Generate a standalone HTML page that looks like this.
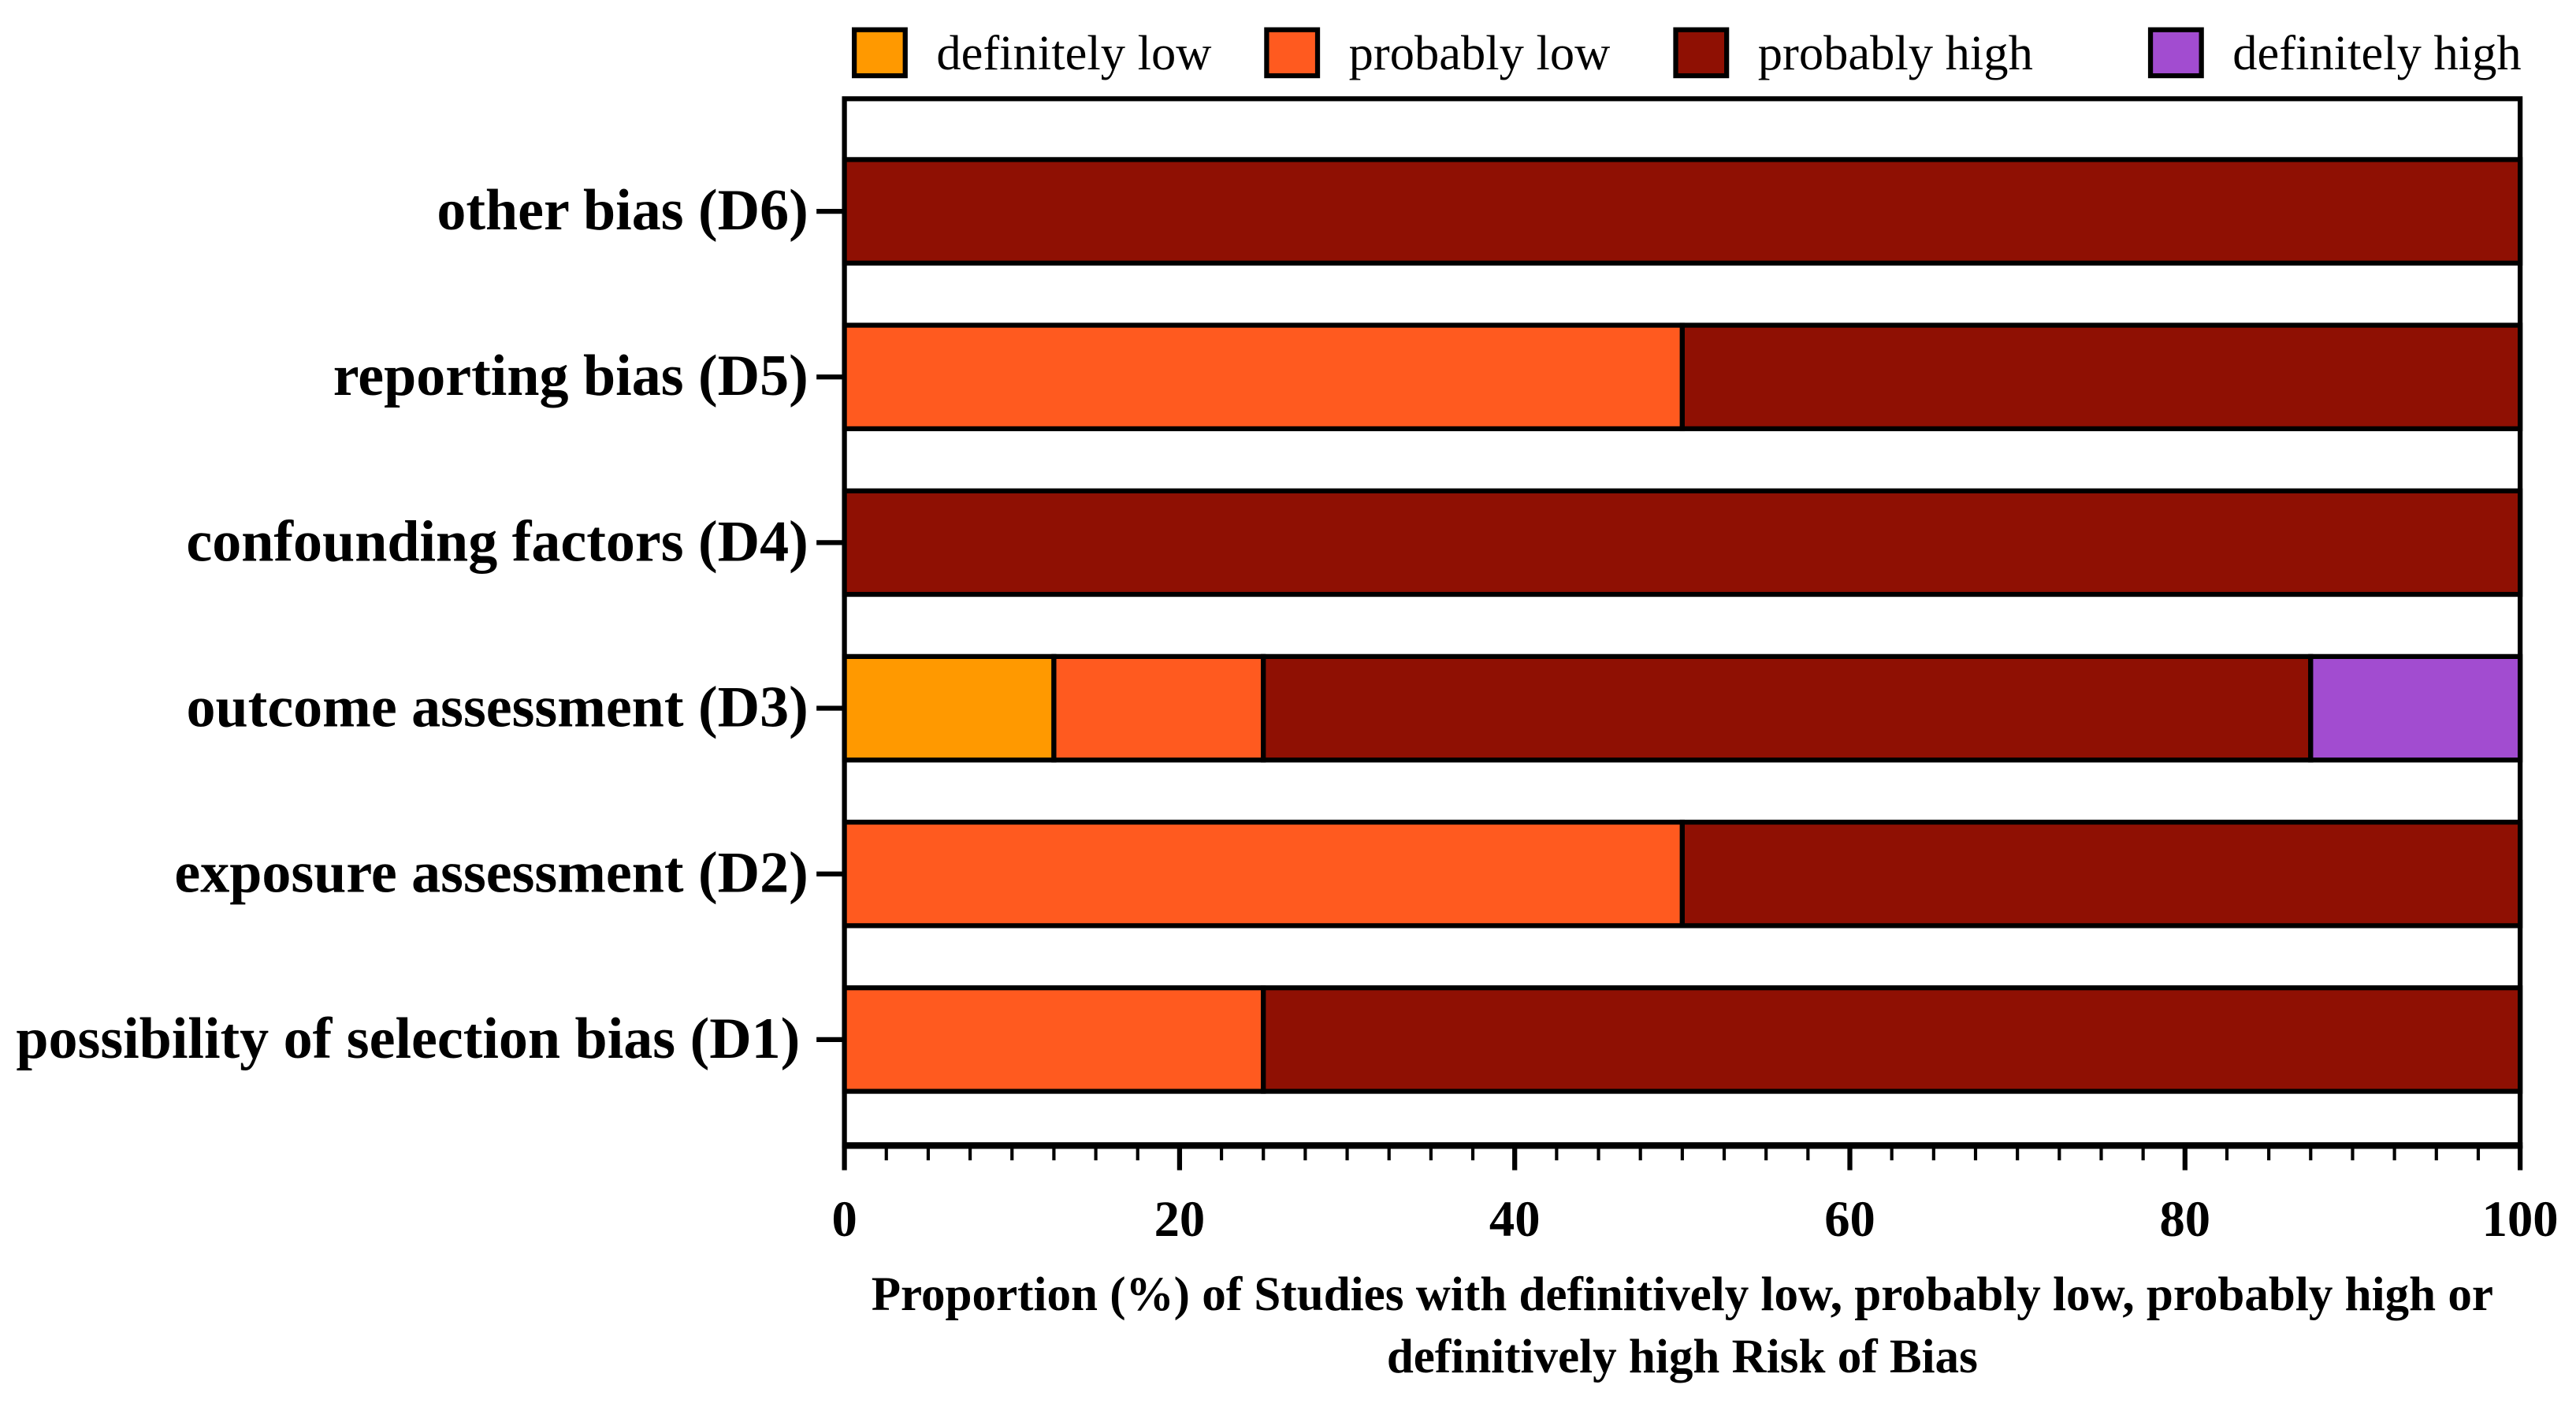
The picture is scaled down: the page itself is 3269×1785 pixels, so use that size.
<!DOCTYPE html>
<html><head><meta charset="utf-8"><style>
html,body{margin:0;padding:0;background:#fff;}
svg{display:block;}
text{font-family:"Liberation Serif",serif;fill:#000;}
</style></head><body>
<svg id="chart" width="3269" height="1785" viewBox="0 0 1568 856" xmlns="http://www.w3.org/2000/svg">
<g id="legend"></g>
<rect x="514" y="60" width="1020" height="637" fill="#fff" stroke="#000" stroke-width="3"/>
<g id="bars"></g>
<g id="yaxis"></g>
<g id="xaxis"></g>
<text x="1024" y="797" font-size="29.3" font-weight="bold" text-anchor="middle">Proportion (%) of Studies with definitively low, probably low, probably high or</text>
<text x="1024" y="835" font-size="29.3" font-weight="bold" text-anchor="middle">definitively high Risk of Bias</text>
</svg>
<script>
const categories = ["other bias (D6)","reporting bias (D5)","confounding factors (D4)","outcome assessment (D3)","exposure assessment (D2)","possibility of selection bias (D1)"];
const seriesNames = ["definitely low","probably low","probably high","definitely high"];
const definitelyLow = [0,0,0,12.5,0,0];
const probablyLow = [0,50,0,12.5,50,25];
const probablyHigh = [100,50,100,62.5,50,75];
const definitelyHigh = [0,0,0,12.5,0,0];
const xTicks = [0,20,40,60,80,100];
const colors = ["#FF9900","#FF5A1F","#8F1003","#A24CD0"];
const NS="http://www.w3.org/2000/svg";
const X0=514,X1=1534,Y0=60,Y1=697;
const xScale=v=>X0+(v/100)*(X1-X0);
const barCenter=i=>128.5+100.8*i;
const barH=63;
function mk(tag,attrs,parent){const e=document.createElementNS(NS,tag);for(const k in attrs)e.setAttribute(k,attrs[k]);parent.appendChild(e);return e;}
const bars=document.getElementById('bars');
const series=[definitelyLow,probablyLow,probablyHigh,definitelyHigh];
categories.forEach((c,i)=>{
  let acc=0;
  series.forEach((s,j)=>{
    const v=s[i]; if(v<=0)return;
    const r=mk('rect',{x:xScale(acc),y:barCenter(i)-barH/2,width:xScale(acc+v)-xScale(acc),height:barH,fill:colors[j],stroke:'#000','stroke-width':3},bars);
    
    
    acc+=v;
  });
});
const ya=document.getElementById('yaxis');
categories.forEach((c,i)=>{
  const t=mk('line',{x1:497,x2:514,y1:barCenter(i),y2:barCenter(i),stroke:'#000','stroke-width':3},ya);
  
  
  const l=mk('text',{x:i==5?487:492,y:barCenter(i)+11,'font-size':35.5,'font-weight':'bold','text-anchor':'end'},ya);
  l.textContent=c;
  
  
});
const xa=document.getElementById('xaxis');
const al=mk('line',{x1:X0-1.5,x2:X1+1.5,y1:Y1,y2:Y1,stroke:'#000','stroke-width':4},xa);


for(let v=0;v<=100;v+=2.5){
  const major=Math.abs(v%20)<1e-9;
  const t=mk('line',{x1:xScale(v),x2:xScale(v),y1:Y1,y2:major?712:706,stroke:'#000','stroke-width':major?3:2},xa);
  
  
}
xTicks.forEach(v=>{
  const l=mk('text',{x:xScale(v),y:752,'font-size':31,'font-weight':'bold','text-anchor':'middle'},xa);
  l.textContent=v;
  
  
});
const lg=document.getElementById('legend');
const lx=[520,771,1020,1309];
seriesNames.forEach((n,j)=>{
  const r=mk('rect',{x:lx[j],y:18,width:31,height:28,fill:colors[j],stroke:'#000','stroke-width':3},lg);
  
  
  const t=mk('text',{x:lx[j]+50,y:42,'font-size':30},lg);
  t.textContent=n;
  
  
});
</script>
</body></html>
